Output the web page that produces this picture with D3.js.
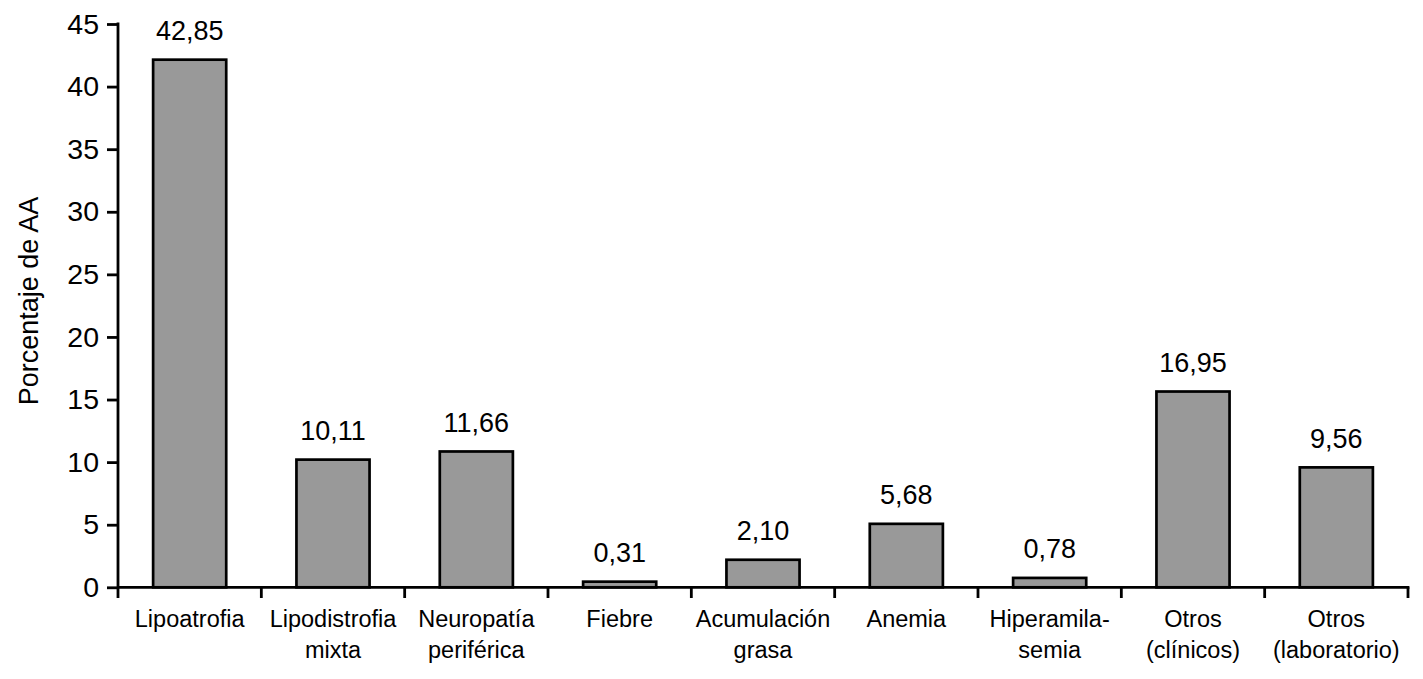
<!DOCTYPE html>
<html><head><meta charset="utf-8">
<script src="https://cdn.jsdelivr.net/npm/d3@7"></script>
<style>body{margin:0;background:#fff}svg{display:block}text{font-family:"Liberation Sans",Arial,Helvetica,sans-serif}</style>
</head><body>
<svg id="c" width="1423" height="679"></svg>
<script>
const categories = [["Lipoatrofia"],["Lipodistrofia","mixta"],["Neuropatía","periférica"],["Fiebre"],["Acumulación","grasa"],["Anemia"],["Hiperamila-","semia"],["Otros","(clínicos)"],["Otros","(laboratorio)"]];
const barValues = [42.15, 10.2, 10.85, 0.45, 2.2, 5.07, 0.75, 15.64, 9.58];
const labelTexts = ["42,85","10,11","11,66","0,31","2,10","5,68","0,78","16,95","9,56"];
const yTicks = [0,5,10,15,20,25,30,35,40,45];
const yTitle = "Porcentaje de AA";

const svg = d3.select("#c");
const x0 = 118, x1 = 1408, yBottom = 587.3, yTop = 24;
const x = d3.scaleBand().domain(d3.range(categories.length)).range([x0, x1]).paddingInner(0.49).paddingOuter(0.245);
const y = d3.scaleLinear().domain([0,45]).range([yBottom, yTop]);

// bars
svg.append("g").selectAll("rect").data(barValues).join("rect")
  .attr("x", (d,i)=>x(i)).attr("width", x.bandwidth())
  .attr("y", d=>y(d)).attr("height", d=>y(0)-y(d))
  .attr("fill","#999999").attr("stroke","#000").attr("stroke-width",2.7);

// value labels
svg.append("g").selectAll("text").data(barValues).join("text")
  .attr("x",(d,i)=>x(i)+x.bandwidth()/2).attr("y", d=>y(d)-19.5)
  .attr("text-anchor","middle").attr("font-size",27).attr("fill","#000")
  .text((d,i)=>labelTexts[i]);

// y axis
const yAxis = d3.axisLeft(y).tickValues(yTicks).tickSize(11).tickPadding(8).tickFormat(d3.format("d"));
const gy = svg.append("g").attr("transform",`translate(${x0},0)`).call(yAxis);
gy.select(".domain").remove();
gy.selectAll(".tick line").attr("stroke","#000").attr("stroke-width",2.8);
gy.selectAll(".tick text").attr("font-size",28.5).attr("fill","#000").attr("font-family",'"Liberation Sans",Arial,sans-serif');
svg.append("line").attr("x1",x0).attr("x2",x0).attr("y1",yTop-1.4).attr("y2",598).attr("stroke","#000").attr("stroke-width",2.8);

// x axis
svg.append("line").attr("x1",x0).attr("x2",x1+1.4).attr("y1",yBottom).attr("y2",yBottom).attr("stroke","#000").attr("stroke-width",2.8);
const bounds = d3.range(categories.length+1).map(i=> i<categories.length ? x(i)-x.step()*x.paddingInner()/2 : x1);
svg.append("g").selectAll("line").data(bounds.slice(1)).join("line")
  .attr("x1",d=>d).attr("x2",d=>d).attr("y1",yBottom).attr("y2",598)
  .attr("stroke","#000").attr("stroke-width",2.8);

// category labels
const cg = svg.append("g").selectAll("text").data(categories).join("text")
  .attr("x",(d,i)=>x(i)+x.bandwidth()/2).attr("y",627)
  .attr("text-anchor","middle").attr("font-size",23.5).attr("fill","#000");
cg.selectAll("tspan").data(d=>d).join("tspan")
  .attr("x",function(){return this.parentNode.getAttribute("x");})
  .attr("dy",(d,j)=>j===0?0:31).text(d=>d);

// y title
svg.append("text").attr("transform","translate(38,301) rotate(-90)")
  .attr("text-anchor","middle").attr("font-size",27).attr("fill","#000").text(yTitle);
</script>
</body></html>
